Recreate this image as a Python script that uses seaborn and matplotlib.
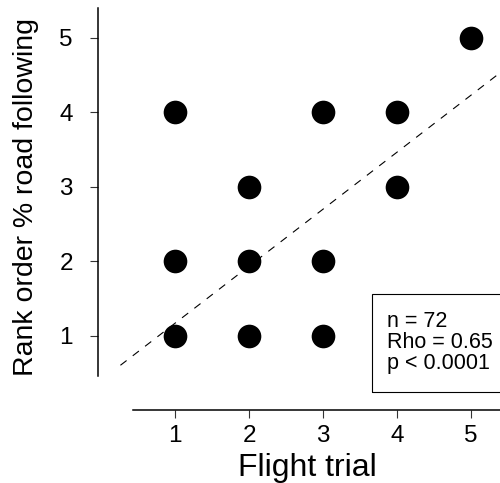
import matplotlib.pyplot as plt
import matplotlib.patches as mpatches
import pandas as pd
import seaborn as sns

sns.set_style("ticks")
plt.rcParams['font.family'] = ['Liberation Sans', 'DejaVu Sans']
plt.rcParams['text.color'] = 'black'
plt.rcParams['xtick.labelcolor'] = 'black'
plt.rcParams['ytick.labelcolor'] = 'black'

# rank per flight trial (one dot per distinct pair)
trial = [1, 1, 1, 2, 2, 2, 3, 3, 3, 4, 4, 5]
rank = [1, 2, 4, 1, 2, 3, 1, 2, 4, 3, 4, 5]
# fitted trend line
fit_intercept = 0.405
fit_slope = 0.765
stats_lines = ['n = 72', 'Rho = 0.65', 'p < 0.0001']

df = pd.DataFrame({'trial': trial, 'rank': rank})

W, H = 500, 483
fig = plt.figure(figsize=(W / 100, H / 100), dpi=100)
ax = fig.add_axes([133 / W, 1 - 376 / H, 367.6 / W, 368 / H])

sns.scatterplot(data=df, x='trial', y='rank', ax=ax, s=290, color='black',
                edgecolor='black', linewidth=0, legend=False, zorder=3)

xs = [0.26, 5.42]
ax.plot(xs, [fit_intercept + fit_slope * x for x in xs], color='black',
        lw=0.8, linestyle=(0, (7, 7)), clip_on=False)

ax.set_xlim(0.43, 5.4)
ax.set_ylim(0.46, 5.4)
ax.set_xticks([1, 2, 3, 4, 5])
ax.set_yticks([1, 2, 3, 4, 5])
sns.despine(ax=ax)
ax.spines['left'].set_position(('outward', 25.2))
ax.spines['bottom'].set_position(('outward', 24.5))
for s in ['left', 'bottom']:
    ax.spines[s].set_linewidth(1.1)
    ax.spines[s].set_color('black')
ax.tick_params(axis='both', labelsize=17.5, length=6, width=0.8,
               color='#333333', labelcolor='black')
ax.tick_params(axis='x', pad=5)
ax.tick_params(axis='y', pad=12)
ax.set_xlabel('')
ax.set_ylabel('')

fig.text(307 / W, 1 - 476 / H, 'Flight trial', ha='center', va='baseline',
         fontsize=23)
fig.text(26 / W, 1 - 197 / H, 'Rank order % road following', rotation=90,
         ha='center', va='center', fontsize=20.5)

fig.add_artist(mpatches.Rectangle((372 / W, 1 - 392 / H), 140 / W, 98 / H,
                                  transform=fig.transFigure, fill=False,
                                  edgecolor='black', lw=0.8))
for i, line in enumerate(stats_lines):
    fig.text(387 / W, 1 - (327 + 21 * i) / H, line, ha='left',
             va='baseline', fontsize=15.5)

fig.savefig('out.png', dpi=100)
